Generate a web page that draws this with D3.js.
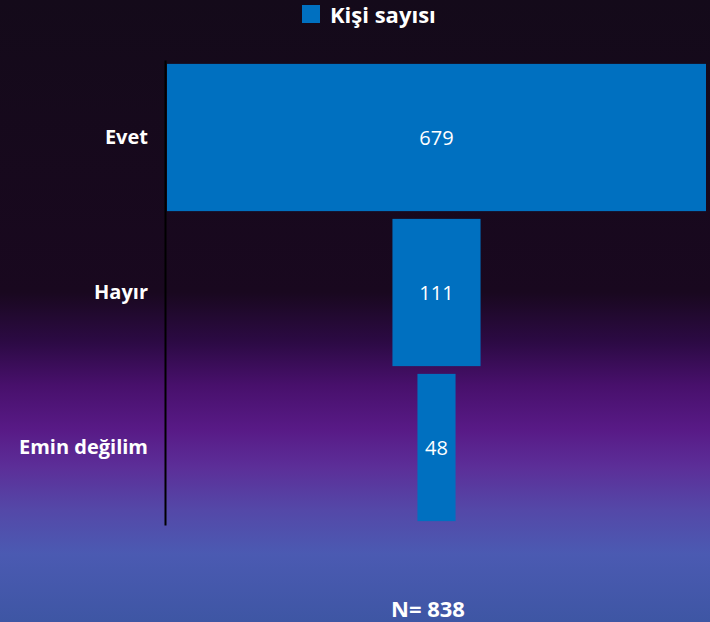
<!DOCTYPE html>
<html>
<head>
<meta charset="utf-8">
<script src="https://cdn.jsdelivr.net/npm/d3@7"></script>
<style>
	html,body{margin:0;padding:0;overflow:hidden;}
	svg{display:block;}
</style>
</head>
<body>
<div id="chart"></div>
<script>
	var categories=["Evet","Hayır","Emin değilim"];
	var values=[679,111,48];
	var seriesName="Kişi sayısı";
	var totalLabel="N= 838";

	var W=710, H=622, barColor='#0070c0';
	var axisX=165, centerLeft=167, centerRight=706;
	var fontFam="'Open Sans', 'Noto Sans', sans-serif";

	var svg=d3.select("#chart").append("svg")
		.attr("width",W).attr("height",H);

	// background gradient
	var grad=svg.append("defs").append("linearGradient")
		.attr("id","bg").attr("x1",0).attr("y1",0).attr("x2",0).attr("y2",1);
	[[0,"#140a1a"],[0.47,"#19081f"],[0.55,"#2c0a44"],[0.62,"#48106c"],[0.69,"#581a86"],
	 [0.75,"#5c2e98"],[0.82,"#5448a8"],[0.89,"#4b5ab2"],[1,"#3e56a4"]].forEach(function(s){
		grad.append("stop").attr("offset",s[0]).attr("stop-color",s[1]);
	});
	svg.append("rect").attr("width",W).attr("height",H).attr("fill","url(#bg)");

	var maxV=d3.max(values);
	var xScale=d3.scaleLinear()
		.domain([-maxV/2,maxV/2])
		.range([centerLeft,centerRight]);
	var yScale=d3.scaleBand()
		.domain(categories)
		.range([60,525])
		.paddingInner(0.05).paddingOuter(0.025);

	// bars, centered (funnel)
	svg.selectAll("rect.bar").data(values).enter().append("rect")
		.attr("class","bar")
		.attr("fill",barColor)
		.attr("x",function(d){return xScale(-d/2);})
		.attr("width",function(d){return xScale(d/2)-xScale(-d/2);})
		.attr("y",function(d,i){return yScale(categories[i]);})
		.attr("height",yScale.bandwidth());

	svg.selectAll("text.val").data(values).enter().append("text")
		.attr("class","val")
		.attr("x",xScale(0))
		.attr("y",function(d,i){return yScale(categories[i])+yScale.bandwidth()/2;})
		.attr("text-anchor","middle").attr("dominant-baseline","central")
		.attr("fill","#fff").attr("font-family",fontFam).attr("font-size",20)
		.text(function(d){return d;});

	// category axis
	var ax=svg.append("g")
		.attr("transform","translate("+axisX+",0)")
		.call(d3.axisLeft(yScale).tickSize(0).tickPadding(17));
	ax.select(".domain").attr("stroke","#000").attr("stroke-width",2);
	ax.selectAll("text")
		.attr("fill","#fff").attr("font-family",fontFam)
		.attr("font-size",20).attr("font-weight","bold");

	// legend
	var lg=svg.append("g").attr("transform","translate(302,5)");
	lg.append("rect").attr("width",18).attr("height",18).attr("fill",barColor);
	lg.append("text").attr("x",28).attr("y",9)
		.attr("dominant-baseline","central")
		.attr("fill","#fff").attr("font-family",fontFam)
		.attr("font-size",22).attr("font-weight","bold")
		.text(seriesName);

	svg.append("text")
		.attr("x",428).attr("y",617)
		.attr("text-anchor","middle")
		.attr("fill","#fff").attr("font-family",fontFam)
		.attr("font-size",22).attr("font-weight","bold")
		.text(totalLabel);
</script>
</body>
</html>
